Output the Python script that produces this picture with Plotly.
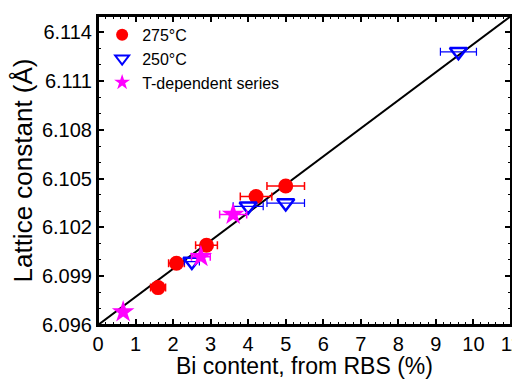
import plotly.graph_objects as go

# 275°C series
x275 = [1.6, 2.09, 2.89, 4.21, 5.0]
y275 = [6.0983, 6.0998, 6.1009, 6.1039, 6.10455]
xe275 = [0.2, 0.21, 0.29, 0.42, 0.5]

# 250°C series
x250 = [2.5, 4.0, 5.0, 9.6]
y250 = [6.0999, 6.1033, 6.1035, 6.1128]
xe250 = [0.2, 0.4, 0.5, 0.48]

# T-dependent series
xT = [0.67, 2.74, 3.6]
yT = [6.0968, 6.1002, 6.1028]
xeT = [0.0, 0.25, 0.36]

# linear fit line
fit_x = [0, 11]
fit_y = [6.096, 6.115]

xticks = list(range(0, 12))
yticks = [6.096, 6.099, 6.102, 6.105, 6.108, 6.111, 6.114]
ytick_labels = ["6.096", "6.099", "6.102", "6.105", "6.108", "6.111", "6.114"]

FONT = "Liberation Sans, Arial"

fig = go.Figure()
fig.add_trace(go.Scatter(x=fit_x, y=fit_y, mode="lines",
                         line=dict(color="black", width=2), showlegend=False))
fig.add_trace(go.Scatter(x=x275, y=y275, mode="markers", name="275°C",
                         marker=dict(symbol="circle", size=15, color="#ff0000"),
                         error_x=dict(type="data", array=xe275, color="#ff0000", thickness=1.5, width=4)))
fig.add_trace(go.Scatter(x=x250, y=y250, mode="markers", name="250°C",
                         marker=dict(symbol="triangle-down-open", size=15, color="#0000ff",
                                     line=dict(width=2.5, color="#0000ff")),
                         error_x=dict(type="data", array=xe250, color="#0000ff", thickness=1.2, width=4)))
fig.add_trace(go.Scatter(x=xT, y=yT, mode="markers", name="T-dependent series",
                         marker=dict(symbol="star", size=17, color="#ff00ff", line=dict(width=0)),
                         error_x=dict(type="data", array=xeT, color="#ff00ff", thickness=1.5, width=4)))

axis_common = dict(showgrid=False, zeroline=False, showline=True, linecolor="black",
                   linewidth=2, mirror="allticks", ticks="inside", tickcolor="black",
                   ticklen=6, tickwidth=1.5, automargin=False, ticklabeloverflow="allow",
                   tickfont=dict(family=FONT, size=20, color="black"))

fig.update_xaxes(range=[0, 11], tickvals=xticks,
                 title=dict(text="Bi content, from RBS (%)",
                            font=dict(family=FONT, size=23, color="black"),
                            standoff=2),
                 minor=dict(dtick=0.2, ticks="inside", ticklen=3, tickcolor="black", tickwidth=1),
                 **axis_common)
fig.update_yaxes(range=[6.096, 6.115], tickvals=yticks, ticktext=ytick_labels,
                 title=dict(text="Lattice constant (Å)",
                            font=dict(family=FONT, size=26, color="black"),
                            standoff=2),
                 minor=dict(dtick=0.001, tick0=6.096, ticks="inside", ticklen=3, tickcolor="black", tickwidth=1),
                 **axis_common)

# plot frame
fig.add_shape(type="rect", xref="paper", yref="paper", x0=0, y0=0, x1=1, y1=1,
              line=dict(color="black", width=2), layer="above")

# page has an 8px body margin, so the figure is shrunk and offset accordingly
fig.update_layout(width=512, height=371, margin=dict(l=90, r=9, t=8, b=54),
                  plot_bgcolor="white", paper_bgcolor="white",
                  legend=dict(x=0.01, y=0.994, xanchor="left", yanchor="top",
                              bgcolor="rgba(0,0,0,0)",
                              font=dict(family=FONT, size=16, color="black"),
                              itemsizing="constant", tracegroupgap=0))

fig.write_html("out.html")
